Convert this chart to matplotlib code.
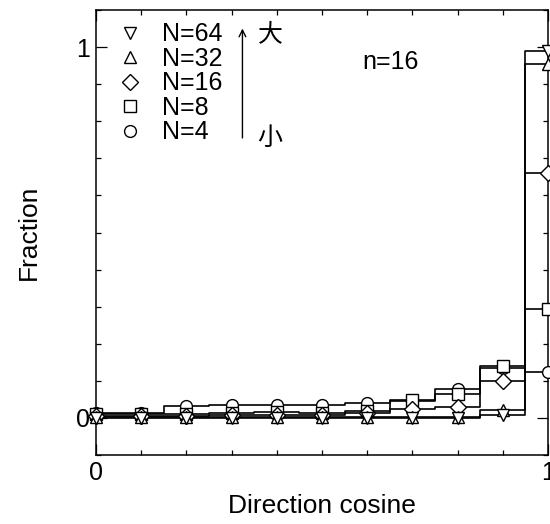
import matplotlib
matplotlib.use("Agg")
import matplotlib.pyplot as plt
from matplotlib.ticker import MultipleLocator, FixedLocator

plt.rcParams['font.family'] = ['Liberation Sans', 'Noto Sans CJK JP', 'DejaVu Sans']

# direction cosine bins (centres)
cos_bins = [0.0, 0.1, 0.2, 0.3, 0.4, 0.5, 0.6, 0.7, 0.8, 0.9, 1.0]

frac_n4 = [0.012, 0.013, 0.032, 0.036, 0.034, 0.035, 0.040, 0.045, 0.078, 0.135, 0.125]
frac_n8 = [0.010, 0.010, 0.010, 0.013, 0.016, 0.013, 0.020, 0.048, 0.065, 0.140, 0.294]
frac_n16 = [0.005, 0.005, 0.005, 0.007, 0.008, 0.008, 0.012, 0.024, 0.030, 0.100, 0.660]
frac_n32 = [0.003, 0.003, 0.003, 0.003, 0.003, 0.003, 0.003, 0.003, 0.003, 0.022, 0.955]
frac_n64 = [0.000, 0.000, 0.000, 0.000, 0.000, 0.000, 0.000, 0.000, 0.000, 0.008, 0.990]

series = [
    ("N=4", frac_n4, "o"),
    ("N=8", frac_n8, "s"),
    ("N=16", frac_n16, "D"),
    ("N=32", frac_n32, "^"),
    ("N=64", frac_n64, "v"),
]
msizes = {"o": 8.5, "s": 8, "D": 8, "^": 8, "v": 8}

fig = plt.figure(figsize=(5.5, 5.24), dpi=100)
ax = fig.add_axes([96/550, 69/524, 452/550, 445/524])

handles = {}
for label, vals, mk in series:
    ax.step(cos_bins, vals, where='mid', color='black', lw=1.2, zorder=2)
for label, vals, mk in series:
    h, = ax.plot(cos_bins, vals, ls='none', marker=mk, ms=msizes[mk],
                 mfc='white', mec='black', mew=1.0, clip_on=False, zorder=3,
                 label=label)
    handles[label] = h

order = ["N=64", "N=32", "N=16", "N=8", "N=4"]
ax.legend([handles[k] for k in order], order, loc='upper left',
          bbox_to_anchor=(0.053, 0.972), frameon=False, fontsize=18,
          handlelength=0.8, handletextpad=0.9, labelspacing=0.02,
          borderpad=0, borderaxespad=0, numpoints=1)

ax.text(0.652, 0.96, "n=16", fontsize=18, ha='center', va='center')
ax.annotate("", xy=(0.324, 1.05), xytext=(0.324, 0.755),
            arrowprops=dict(arrowstyle='->', color='black', lw=1.0,
                            mutation_scale=12, shrinkA=0, shrinkB=0))
ax.text(0.386, 1.035, "大", fontsize=18, ha='center', va='center',
        family=['Noto Sans CJK JP'])
ax.text(0.384, 0.755, "小", fontsize=18, ha='center', va='center',
        family=['Noto Sans CJK JP'])

ax.set_xlim(0, 1)
ax.set_ylim(-0.1, 1.1)
ax.xaxis.set_major_locator(FixedLocator([0, 1]))
ax.yaxis.set_major_locator(FixedLocator([0, 1]))
ax.xaxis.set_minor_locator(MultipleLocator(0.1))
ax.yaxis.set_minor_locator(MultipleLocator(0.1))
ax.set_xticklabels(["0", "1"])
ax.set_yticklabels(["0", "1"])
ax.tick_params(which='both', direction='in', top=True, right=True,
               labelsize=18, width=0.9)
ax.tick_params(which='major', length=8, pad=4)
ax.tick_params(which='minor', length=3.5)
for sp in ax.spines.values():
    sp.set_linewidth(1.1)

ax.set_xlabel("Direction cosine", fontsize=19)
ax.set_ylabel("Fraction", fontsize=19)
ax.xaxis.set_label_coords(0.5, -0.088)
ax.yaxis.set_label_coords(-0.122, 0.5)

fig.savefig("out.png", dpi=100)
